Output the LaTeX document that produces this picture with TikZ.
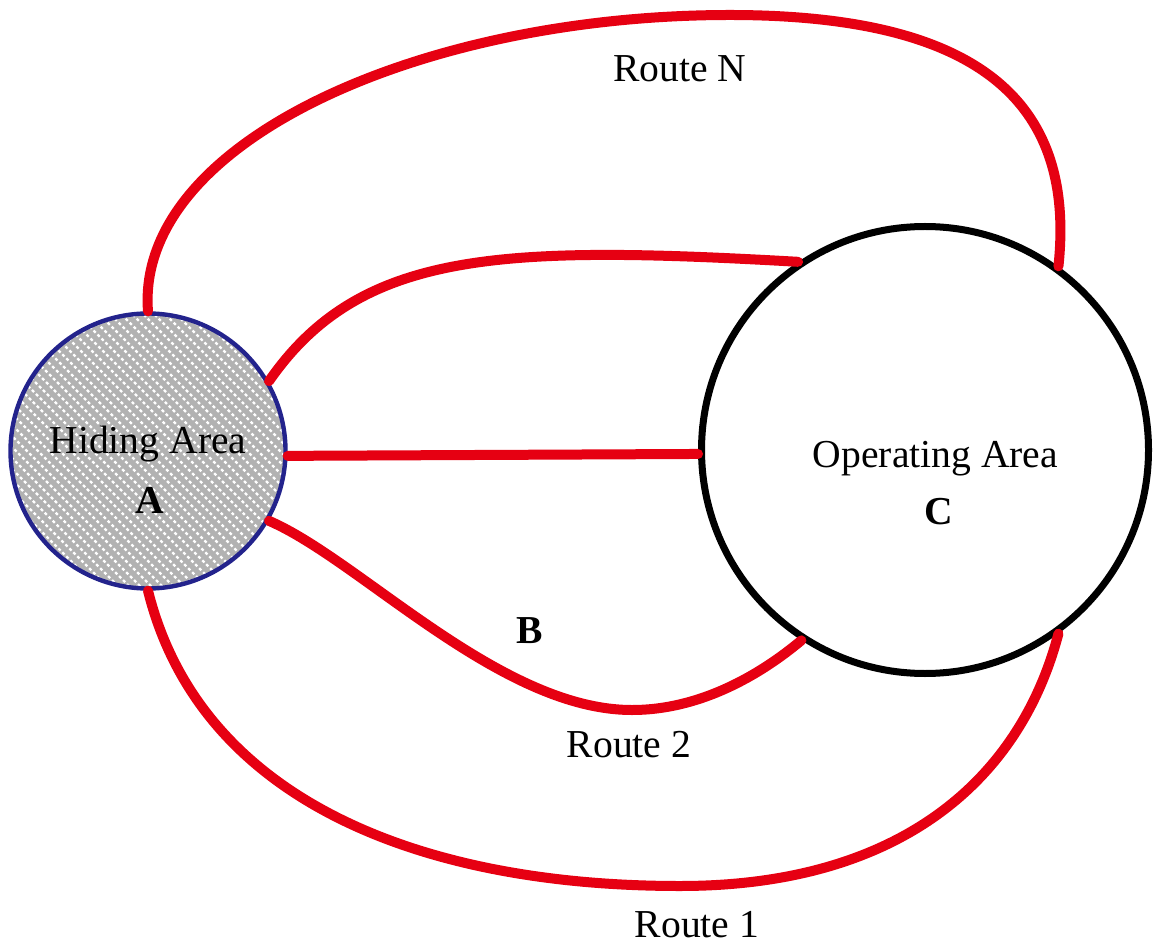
\documentclass[tikz,border=0pt]{standalone}
\usepackage{fontspec}
\setmainfont{Liberation Serif}
\definecolor{routered}{RGB}{230,0,18}
\definecolor{hideblue}{RGB}{35,35,140}
\definecolor{hidegray}{RGB}{178,178,178}

\begin{document}
\begin{tikzpicture}[x=0.5pt, y=0.5pt]
    \tikzstyle{every node} = [font=\fontsize{19.8}{24}\selectfont, inner sep=0pt]
    \tikzstyle{route} = [draw=routered, line width=5pt, line cap=round]
    \tikzstyle{routetext} = [anchor=base]
    \tikzstyle{area} = [circle, inner sep=0pt]
    \tikzstyle{hiding area} = [area, draw=hideblue, line width=2.2pt, fill=hidegray, minimum size=137.5pt,
        path picture={\foreach \d in {-99,-93.5,...,99}
            \draw[white, line width=1.2pt, dash pattern=on 1.5pt off 1.3pt]
                ([shift={(\d pt-80pt,80pt)}]path picture bounding box.center) -- ++(160pt,-160pt);}]
    \tikzstyle{operating area} = [area, draw=black, line width=3.5pt, minimum size=223.5pt]

    \useasboundingbox (0,0) rectangle (1154,943);

    % the two areas
    \node[hiding area] (hiding) at (148,492) {};
    \node[operating area] (operating) at (925,493) {};
    \node[routetext] (hidingname) at (148,489) {Hiding Area};
    \node[routetext] (hidingletter) at (150,430) {\textbf{A}};
    \node[routetext] (operatingname) at (935.5,476) {Operating Area};
    \node[routetext] (operatingletter) at (939,419) {\textbf{C}};

    % routes
    \draw[route] (hiding.90) .. controls (135,800) and (420,928) .. (730,928)
        .. controls (990,928) and (1075,833) .. (operating.54);
    \draw[route] (hiding.30) .. controls (360,693) and (500,698) .. (operating.124);
    \draw[route] (hiding.-2.5) -- (operating.181.7);
    \draw[route] (hiding.-30) .. controls (360,383) and (500,233) .. (632,233)
        .. controls (700,233) and (760,268) .. (operating.-123);
    \draw[route] (hiding.-90) .. controls (200,143) and (420,57) .. (680,57)
        .. controls (900,57) and (1020,163) .. (operating.-54);

    \node[routetext] (routeN) at (680,861) {Route N};
    \node[routetext] (pointB) at (530,300) {\textbf{B}};
    \node[routetext] (route2) at (629,186) {Route 2};
    \node[routetext] (route1) at (697,6) {Route 1};
\end{tikzpicture}
\end{document}
